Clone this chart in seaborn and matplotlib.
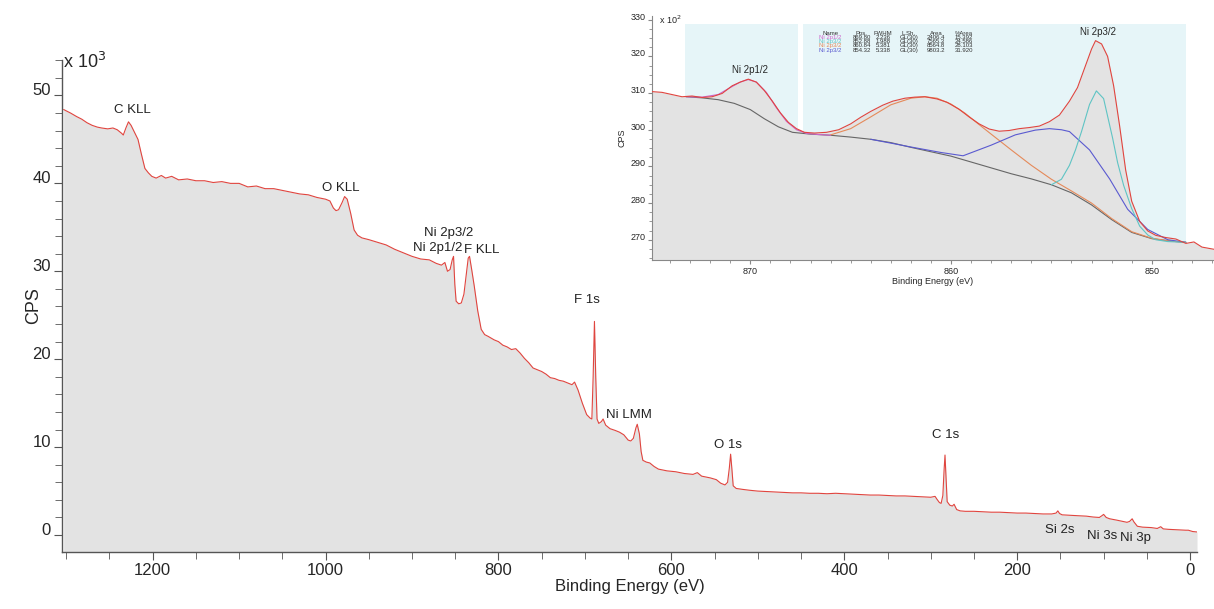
import numpy as np
import pandas as pd
import matplotlib
matplotlib.use("Agg")
import matplotlib.pyplot as plt
import seaborn as sns
from matplotlib.ticker import MultipleLocator

# ---------------- survey spectrum (binding energy eV, CPS x10^3) ----------------
survey_E = [1303, 1295, 1288, 1282, 1276, 1270, 1264, 1259, 1252, 1246, 1241, 1236, 1234, 1231,
            1228, 1225, 1221, 1217, 1213, 1209, 1205, 1201, 1196, 1190, 1185, 1178, 1170, 1160,
            1150, 1140, 1130, 1120, 1110, 1100, 1090, 1080, 1070, 1060, 1050, 1040, 1030, 1020,
            1010, 1000, 995, 991, 988, 985, 981, 978, 975, 971, 967, 963, 958, 950, 940, 930,
            920, 910, 900, 890, 880, 872, 866, 862, 859, 856, 853.5, 852, 850.5, 849, 846, 843,
            840, 837, 835, 833.5, 831, 828, 824, 820, 816, 812, 805, 800, 795, 790, 785, 780,
            775, 770, 765, 760, 755, 750, 745, 740, 735, 730, 725, 720, 715, 712, 708, 703,
            698, 694, 692, 690.5, 689, 687.5, 686, 684, 681, 679, 676, 671, 665, 660, 655, 650,
            647, 644, 641, 639.5, 637, 635, 633, 629, 625, 620, 615, 605, 595, 585, 575, 570,
            565, 555, 548, 543, 538, 535, 533, 531.5, 530, 528.5, 525, 518, 510, 500, 490, 480,
            470, 460, 450, 440, 430, 420, 410, 400, 390, 380, 370, 360, 350, 340, 330, 320,
            310, 300, 295, 293, 290, 288, 286, 284.5, 283.5, 282.5, 281, 278, 275, 273, 270,
            266, 260, 250, 240, 230, 220, 210, 200, 190, 180, 170, 160, 155, 153, 151, 148,
            140, 130, 120, 112, 105, 102, 100, 97, 93, 85, 78, 73, 70, 67, 65, 61, 55, 45,
            38, 34, 31, 25, 15, 5, 2, -3, -8]
survey_cps = [48.4, 48.0, 47.6, 47.3, 46.9, 46.6, 46.4, 46.3, 46.2, 46.3, 46.1, 45.7, 45.5, 46.3,
              47.0, 46.6, 45.8, 45.0, 43.3, 41.7, 41.2, 40.8, 40.6, 40.9, 40.6, 40.8, 40.4, 40.5,
              40.3, 40.3, 40.1, 40.2, 40.0, 40.0, 39.6, 39.7, 39.4, 39.4, 39.2, 39.0, 38.8, 38.7,
              38.4, 38.2, 38.0, 37.2, 36.9, 37.0, 37.8, 38.5, 38.2, 36.6, 34.7, 34.1, 33.8, 33.6,
              33.3, 33.0, 32.5, 32.1, 31.7, 31.4, 31.3, 30.9, 30.7, 31.0, 30.0, 30.2, 31.3, 31.7,
              28.5, 26.6, 26.3, 26.4, 27.4, 29.8, 31.5, 31.7, 30.2, 28.3, 25.5, 23.4, 22.8, 22.6,
              22.2, 22.0, 21.6, 21.4, 21.1, 21.2, 20.7, 20.1, 19.6, 19.0, 18.8, 18.6, 18.3, 17.9,
              17.8, 17.6, 17.5, 17.3, 17.1, 17.4, 16.5, 15.0, 13.7, 13.3, 13.2, 18.0, 24.3, 18.0,
              13.2, 12.7, 12.9, 13.2, 12.5, 12.1, 11.9, 11.7, 11.4, 10.8, 10.7, 11.0, 12.2, 12.6,
              11.5, 9.5, 8.5, 8.3, 8.2, 7.8, 7.5, 7.3, 7.2, 7.0, 6.9, 7.1, 6.7, 6.5, 6.3, 5.9,
              5.7, 6.0, 7.6, 9.2, 7.5, 5.6, 5.3, 5.2, 5.1, 5.0, 4.95, 4.9, 4.85, 4.8, 4.8, 4.75,
              4.75, 4.7, 4.75, 4.7, 4.65, 4.6, 4.55, 4.55, 4.5, 4.45, 4.45, 4.4, 4.35, 4.3, 4.4,
              4.1, 3.7, 3.6, 4.5, 7.5, 9.1, 7.0, 3.8, 3.4, 3.3, 3.5, 2.9, 2.75, 2.7, 2.7, 2.65,
              2.6, 2.6, 2.55, 2.5, 2.5, 2.45, 2.4, 2.4, 2.5, 2.75, 2.45, 2.3, 2.25, 2.2, 2.15,
              2.05, 2.0, 2.2, 2.35, 2.0, 1.85, 1.7, 1.55, 1.45, 1.55, 1.85, 1.5, 1.0, 0.9, 0.85,
              0.75, 0.95, 0.7, 0.65, 0.6, 0.55, 0.55, 0.4, 0.35]

peak_labels = ["C KLL", "O KLL", "Ni 2p3/2", "Ni 2p1/2", "F KLL", "F 1s", "Ni LMM",
               "O 1s", "C 1s", "Si 2s", "Ni 3s", "Ni 3p"]
peak_label_E = [1224, 982, 858, 870, 820, 698, 649, 534, 283, 151, 102, 63]
peak_label_cps = [48.4, 39.5, 34.4, 32.7, 32.4, 26.7, 13.6, 10.2, 11.4, 0.6, -0.1, -0.35]

# ---------------- Ni 2p high-resolution spectrum (CPS x10^2) ----------------
hr_E = [874.9, 874.4, 873.9, 873.4, 872.9, 872.4, 871.9, 871.4, 870.9, 870.5, 870.1, 869.7,
        869.3, 868.9, 868.5, 868.1, 867.7, 867.3, 866.8, 866.2, 865.6, 865.0, 864.5, 864.0,
        863.4, 862.9, 862.3, 861.8, 861.3, 860.7, 860.2, 859.6, 859.1, 858.6, 858.1, 857.6,
        857.1, 856.6, 856.1, 855.6, 855.1, 854.6, 854.1, 853.7, 853.3, 853.0, 852.8, 852.5,
        852.2, 851.9, 851.6, 851.3, 851.0, 850.6, 850.2, 849.8, 849.3, 848.8, 848.3, 847.9,
        847.5, 846.9]
hr_cps = [310.4, 310.2, 309.6, 309.0, 309.2, 308.8, 309.0, 309.9, 312.0, 313.0, 313.8, 313.0,
          310.7, 307.8, 304.6, 302.0, 300.3, 299.3, 299.1, 299.3, 300.0, 301.6, 303.4, 305.0,
          306.7, 307.8, 308.6, 308.9, 309.0, 308.4, 307.5, 305.6, 303.5, 301.6, 300.2, 299.6,
          299.8, 300.3, 300.6, 301.0, 302.2, 304.0, 307.8, 311.5, 317.5, 322.0, 324.3, 323.4,
          320.0, 312.0, 301.0, 289.0, 280.5, 275.0, 272.4, 271.2, 270.6, 270.2, 269.0, 269.4,
          268.0, 267.4]

bg_E = [873.2, 872.4, 871.6, 870.8, 870.0, 869.3, 868.6, 867.9, 867.0, 866.0, 865.0, 864.0,
        863.0, 862.0, 861.0, 860.0, 859.0, 858.0, 857.0, 856.0, 855.0, 854.0, 853.0, 852.0,
        851.0, 850.0, 849.0, 848.3]
bg_cps = [309.0, 308.7, 308.2, 307.2, 305.5, 303.0, 300.8, 299.3, 298.8, 298.5, 298.0, 297.4,
          296.5, 295.2, 294.0, 292.8, 291.2, 289.6, 288.0, 286.6, 285.0, 282.8, 279.5, 275.5,
          272.0, 270.3, 269.6, 269.3]

c1_E = [873.2, 872.4, 871.6, 871.0, 870.5, 870.1, 869.7, 869.2, 868.7, 868.2, 867.7, 867.2,
        866.6, 866.0]
c1_cps = [309.0, 308.9, 309.6, 311.5, 313.0, 313.7, 313.0, 310.2, 306.0, 302.3, 300.0, 299.0,
          298.7, 298.5]
c2_E = [855.0, 854.5, 854.1, 853.8, 853.5, 853.1, 852.76, 852.4, 851.95, 851.7, 851.4, 851.0,
        850.6, 850.2, 849.8, 849.2, 848.3]
c2_cps = [285.0, 286.5, 290.3, 294.5, 299.5, 306.9, 310.6, 308.5, 297.7, 291.0, 284.8, 278.5,
          273.7, 271.3, 270.0, 269.5, 269.3]
c3_E = [866.0, 865.0, 864.0, 863.0, 862.0, 861.3, 860.7, 860.0, 859.3, 858.6, 858.0, 857.0,
        856.0, 855.0, 854.0, 853.0, 852.0, 851.0, 850.0, 849.0, 848.3]
c3_cps = [298.6, 300.3, 303.5, 306.8, 308.6, 309.0, 308.6, 307.0, 304.5, 301.4, 298.8, 294.5,
          290.3, 286.5, 283.3, 280.0, 275.8, 272.2, 270.4, 269.6, 269.3]
c4_E = [864.0, 862.0, 860.5, 859.4, 858.0, 856.8, 855.8, 855.1, 854.5, 854.1, 853.1, 852.1,
        851.2, 850.2, 849.2, 848.3]
c4_cps = [297.4, 295.3, 293.8, 292.9, 295.8, 298.6, 299.9, 300.3, 300.0, 299.5, 294.5, 286.6,
          278.3, 272.8, 270.0, 269.3]

table_header = ["Name", "Pos.", "FWHM", "L.Sh.", "Area", "%Area"]
table_names = ["Ni 2p1/2", "Ni 2p3/2", "Ni 2p3/2", "Ni 2p3/2"]
table_pos = ["869.80", "852.88", "860.84", "854.32"]
table_fwhm = ["2.236", "1.988", "5.381", "5.338"]
table_lsh = ["GL(30)", "GL(30)", "GL(30)", "GL(30)"]
table_area = ["2406.4", "7565.3", "8564.8", "9803.2"]
table_pct = ["15.392", "24.586", "28.103", "31.920"]
comp_colors = ["#cc66cc", "#5fc4c4", "#e58a5a", "#5a5ad0"]

# ---------------- styling ----------------
sns.set_style("ticks")
plt.rcParams["font.family"] = ["Liberation Sans", "DejaVu Sans"]

fig = plt.figure(figsize=(12.14, 6.09), dpi=100)
ax = fig.add_axes([0.051, 0.094, 0.935, 0.807])

line_red = "#e0453f"
fill_grey = "#e3e3e3"
ymin_main = -1.9

ax.fill_between(survey_E, ymin_main, survey_cps, color=fill_grey, lw=0, zorder=1)
sns.lineplot(x=survey_E, y=survey_cps, ax=ax, color=line_red, lw=0.8, sort=False,
             estimator=None, zorder=2)
ax.set_xlim(1305, -8)
ax.set_ylim(ymin_main, 54)
for s in ["top", "right"]:
    ax.spines[s].set_visible(False)
for s in ["left", "bottom"]:
    ax.spines[s].set_color("#555555")
    ax.spines[s].set_linewidth(1.0)
ax.xaxis.set_major_locator(MultipleLocator(200))
ax.xaxis.set_minor_locator(MultipleLocator(50))
ax.yaxis.set_major_locator(MultipleLocator(10))
ax.yaxis.set_minor_locator(MultipleLocator(2))
ax.tick_params(which="both", direction="out", color="#555555", labelsize=12, pad=2)
ax.tick_params(which="major", length=6)
ax.tick_params(which="minor", length=5)
for t in ax.get_yticklabels():
    t.set_verticalalignment("baseline")
ax.set_xlabel("Binding Energy (eV)", fontsize=12, labelpad=1)
ax.set_ylabel("CPS", fontsize=13)
ax.yaxis.set_label_coords(-0.017, 0.5)
fig.text(0.052, 0.888, r"x 10$^{3}$", fontsize=13, ha="left", va="baseline")

for lab, e, c in zip(peak_labels, peak_label_E, peak_label_cps):
    ax.text(e, c, lab, fontsize=9.5, ha="center", va="center", color="#222222", zorder=3)

# ---------------- inset ----------------
ins = fig.add_axes([0.537, 0.5726, 0.463, 0.401])
ins.set_facecolor("white")
ins_ymin = 264.4
ins_ymax = 331
blue_top = (328.9 - ins_ymin) / (ins_ymax - ins_ymin)
ins.axvspan(873.25, 867.6, ymin=0, ymax=blue_top, color="#e6f5f8", lw=0, zorder=0)
ins.axvspan(867.35, 848.3, ymin=0, ymax=blue_top, color="#e6f5f8", lw=0, zorder=0)
ins.fill_between(hr_E, ins_ymin, hr_cps, color=fill_grey, lw=0, zorder=1)
sns.lineplot(x=bg_E, y=bg_cps, ax=ins, color="#666666", lw=0.8, sort=False, estimator=None, zorder=2)
for ce, cc, col in zip([c3_E, c4_E, c2_E, c1_E], [c3_cps, c4_cps, c2_cps, c1_cps],
                       [comp_colors[2], comp_colors[3], comp_colors[1], comp_colors[0]]):
    sns.lineplot(x=ce, y=cc, ax=ins, color=col, lw=0.8, sort=False, estimator=None, zorder=3)
sns.lineplot(x=hr_E, y=hr_cps, ax=ins, color=line_red, lw=0.8, sort=False, estimator=None, zorder=4)
ins.set_xlim(874.9, 846.9)
ins.set_ylim(ins_ymin, ins_ymax)
for s in ["top", "right"]:
    ins.spines[s].set_visible(False)
for s in ["left", "bottom"]:
    ins.spines[s].set_color("#888888")
    ins.spines[s].set_linewidth(0.8)
ins.xaxis.set_major_locator(MultipleLocator(10))
ins.xaxis.set_minor_locator(MultipleLocator(1))
ins.yaxis.set_major_locator(MultipleLocator(10))
ins.yaxis.set_minor_locator(MultipleLocator(2.5))
ins.tick_params(which="both", direction="out", color="#888888", labelsize=6.5, pad=1.5)
ins.tick_params(which="major", length=3)
ins.tick_params(which="minor", length=2)
for t in ins.get_yticklabels():
    t.set_verticalalignment("baseline")
ins.set_xlabel("Binding Energy (eV)", fontsize=6.5, labelpad=1)
ins.set_ylabel("CPS", fontsize=6.5, labelpad=3)
ins.text(0.012, 1.01, r"x 10$^{2}$", transform=ins.transAxes, fontsize=6.5, ha="left", va="top")
ins.text(870.0, 316.4, "Ni 2p1/2", fontsize=7, ha="center", va="center", zorder=5)
ins.text(852.7, 326.6, "Ni 2p3/2", fontsize=7, ha="center", va="center", zorder=5)

col_x = [866.0, 864.45, 863.38, 862.1, 860.75, 859.35]
row_y0 = 326.3
row_dy = 1.15
for cx, h in zip(col_x, table_header):
    ins.text(cx, row_y0, h, fontsize=4.3, ha="center", va="center", color="#333333", zorder=5)
for i in range(4):
    yy = row_y0 - row_dy * (i + 1)
    vals = [table_names[i], table_pos[i], table_fwhm[i], table_lsh[i], table_area[i], table_pct[i]]
    for j, (cx, v) in enumerate(zip(col_x, vals)):
        ins.text(cx, yy, v, fontsize=4.3, ha="center", va="center",
                 color=comp_colors[i] if j == 0 else "#333333", zorder=5)

fig.savefig("out.png", dpi=100)
